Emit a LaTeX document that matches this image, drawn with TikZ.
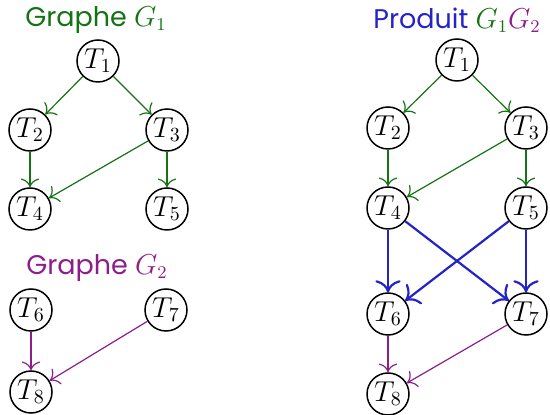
\documentclass[tikz,border=0pt]{standalone}
\usepackage{amsmath}
\usepackage{fontspec}
\setsansfont{Poppins}
\usepackage{tikz}
\usetikzlibrary{arrows.meta}
\definecolor{vertG}{RGB}{20,115,20}
\definecolor{violetG}{RGB}{140,30,140}
\definecolor{bleuP}{RGB}{35,35,200}
\begin{document}
\begin{tikzpicture}[
            x=0.5pt, y=-0.5pt,
            tache/.style={draw,circle,line width=0.75pt,minimum size=21pt,inner sep=0pt,
              font=\fontsize{14}{16}\selectfont},
            titre/.style={font=\fontsize{13.5}{16}\selectfont\sffamily},
            every path/.style={->,>={To[scale=1.5]}},
            arcG/.style={vertG,line width=0.6pt},
            arcH/.style={violetG,line width=0.6pt},
            arcP/.style={bleuP,line width=1.1pt}
            ]
            \useasboundingbox (0,0) rectangle (550,415);
            % graphe G1
            \node[titre,text=vertG] (t1) at (96,20) {Graphe $G_1$};
            \node[tache] (a1) at (98,61) {$T_1$};
            \node[tache] (a2) at (30,130) {$T_2$};
            \node[tache] (a3) at (167,130) {$T_3$};
            \node[tache] (a4) at (30,209) {$T_4$};
            \node[tache] (a5) at (167,209) {$T_5$};
            \draw[arcG] (a1) -- (a2);
            \draw[arcG] (a1) -- (a3);
            \draw[arcG] (a2) -- (a4);
            \draw[arcG] (a3) -- (a4);
            \draw[arcG] (a3) -- (a5);
            % graphe G2
            \node[titre,text=violetG] (t2) at (97,268) {Graphe $G_2$};
            \node[tache] (b6) at (31,310) {$T_6$};
            \node[tache] (b7) at (166,310) {$T_7$};
            \node[tache] (b8) at (31,392) {$T_8$};
            \draw[arcH] (b6) -- (b8);
            \draw[arcH] (b7) -- (b8);
            % produit
            \node[titre,text=bleuP] (t3) at (457,20) {Produit \textcolor{vertG}{$G_1$}\textcolor{violetG}{$G_2$}};
            \node[tache] (p1) at (457,60) {$T_1$};
            \node[tache] (p2) at (388,128) {$T_2$};
            \node[tache] (p3) at (526,128) {$T_3$};
            \node[tache] (p4) at (388,208) {$T_4$};
            \node[tache] (p5) at (526,208) {$T_5$};
            \node[tache] (p6) at (388,314) {$T_6$};
            \node[tache] (p7) at (526,314) {$T_7$};
            \node[tache] (p8) at (388,394) {$T_8$};
            \draw[arcG] (p1) -- (p2);
            \draw[arcG] (p1) -- (p3);
            \draw[arcG] (p2) -- (p4);
            \draw[arcG] (p3) -- (p4);
            \draw[arcG] (p3) -- (p5);
            \draw[arcP] (p4) -- (p6);
            \draw[arcP] (p4) -- (p7);
            \draw[arcP] (p5) -- (p6);
            \draw[arcP] (p5) -- (p7);
            \draw[arcH] (p6) -- (p8);
            \draw[arcH] (p7) -- (p8);
        \end{tikzpicture}
\end{document}
